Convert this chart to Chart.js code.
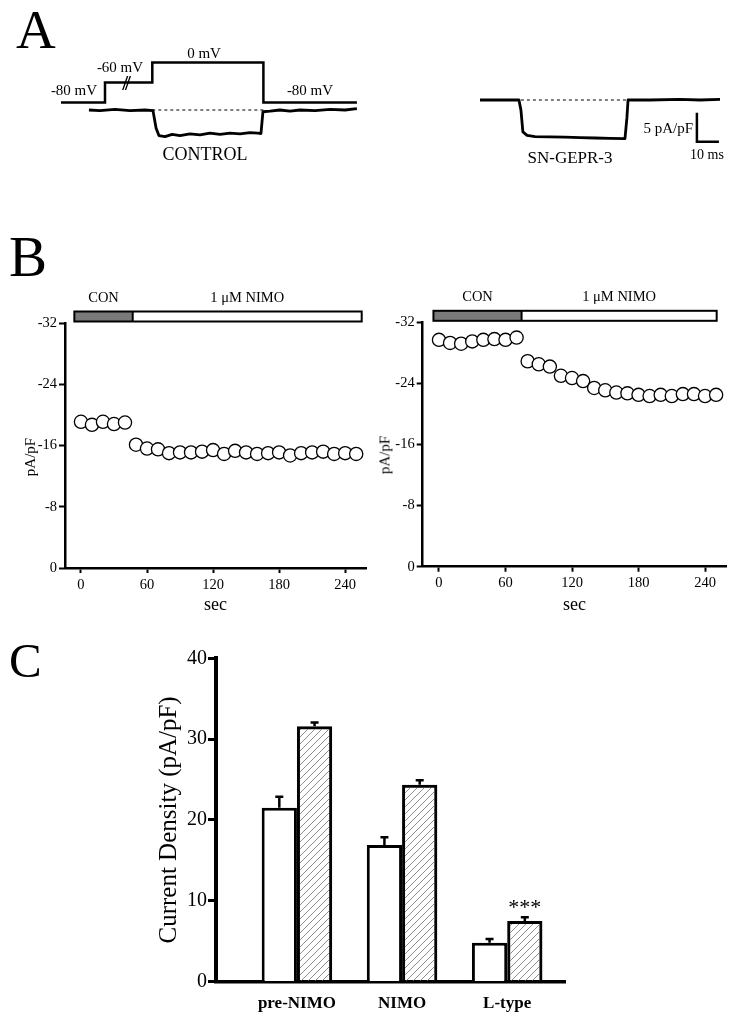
<!doctype html>
<html lang="en">
<head>
<meta charset="utf-8">
<title>Calcium current density</title>
<script src="https://cdn.jsdelivr.net/npm/chart.js@4.4.1/dist/chart.umd.min.js"></script>
<style>
  html, body { margin: 0; background: #fff; }
  body { width: 734px; height: 1016px; position: relative; overflow: hidden;
         font-family: "Liberation Serif", "Times New Roman", serif; color: #000; }
  canvas { position: absolute; }
  .t { position: absolute; white-space: nowrap; line-height: 1; transform: translate(-50%, -50%); }
  .letter { position: absolute; line-height: 1; }
</style>
</head>
<body>
<canvas id="protoChart"></canvas>
<canvas id="ctrlChart"></canvas>
<canvas id="gepChart"></canvas>
<canvas id="leftTime"></canvas>
<canvas id="rightTime"></canvas>
<canvas id="barChart"></canvas>

<div class="letter" style="left:16px; top:2px; font-size:55px">A</div>
<div class="letter" style="left:9px; top:228px; font-size:57px">B</div>
<div class="letter" style="left:9px; top:636px; font-size:49px">C</div>

<div class="t" style="left:74px; top:90px; font-size:15px">-80 mV</div>
<div class="t" style="left:120px; top:67px; font-size:15px">-60 mV</div>
<div class="t" style="left:125px; top:83px; font-size:21px; font-weight:bold; letter-spacing:-3px">//</div>
<div class="t" style="left:204px; top:53px; font-size:15px">0 mV</div>
<div class="t" style="left:310px; top:90px; font-size:15px">-80 mV</div>
<div class="t" style="left:205px; top:154px; font-size:18px">CONTROL</div>
<div class="t" style="left:570px; top:157px; font-size:17px">SN-GEPR-3</div>
<div class="t" style="left:693px; top:128px; font-size:15px; transform:translate(-100%,-50%)">5 pA/pF</div>
<div class="t" style="left:707px; top:155px; font-size:14px">10 ms</div>

<div class="t" style="left:30px; top:457px; font-size:15px; transform:translate(-50%,-50%) rotate(-90deg)">pA/pF</div>
<div class="t" style="left:385px; top:455px; font-size:15px; transform:translate(-50%,-50%) rotate(-90deg)">pA/pF</div>

<script>
  // A: voltage protocol (ms) and example current traces (pA/pF)
  const protocolTime = [0, 20, 20, 41.5, 41.5, 92, 92, 134.5];
  const protocolLevel = ['-80 mV', '-80 mV', '-60 mV', '-60 mV', '0 mV', '0 mV', '-80 mV', '-80 mV'];
  const protocolLabels = ['0 mV', '-60 mV', '-80 mV'];

  const controlTime = [12.7, 17.7, 24.5, 31.4, 38.2, 41.8, 43.2, 44.5, 47.3, 50.5, 54.1, 58.6, 63.2, 67.7, 72.3,
                       76.8, 81.4, 85.9, 89.5, 90.9, 91.8, 95, 99.5, 104.1, 108.6, 115.5, 122.3, 129.1, 134.5];
  const controlCurrent = [0, -0.1, 0.1, -0.1, 0, -0.1, -3.1, -4.4, -4.6, -4.2, -4.4, -4.1, -4.3, -4.0, -4.2,
                          -4.0, -4.1, -3.9, -4.0, -4.05, -0.3, -0.2, 0, -0.2, 0, -0.1, 0.1, 0, 0.25];
  const controlBaseTime = [41.5, 92];

  const gepTime = [0, 9.1, 17.7, 18.6, 19.5, 21.4, 25, 31.8, 38.6, 45.5, 52.3, 59.1, 65.9, 66.8, 67.3, 77.3, 90.9, 100, 109.1];
  const gepCurrent = [0, 0, 0, -1.7, -5.5, -6.1, -6.3, -6.35, -6.4, -6.5, -6.55, -6.6, -6.67, -3, 0, 0, 0.1, 0, 0.1];
  const gepBaseTime = [18.6, 67];
  const baseCurrent = [0, 0];

  const scaleBarTime = [98.6, 98.6, 108.6];
  const scaleBarCurrent = [-2.2, -7.2, -7.2];

  // B: time course before / during nimodipine
  const leftTime = [0, 10, 20, 30, 40, 50, 60, 70, 80, 90, 100, 110, 120, 130, 140, 150, 160, 170, 180, 190, 200, 210, 220, 230, 240, 250];
  const leftCurrent = [-19.1, -18.7, -19.1, -18.8, -19.0, -16.1, -15.6, -15.5, -15.0, -15.1, -15.1, -15.2, -15.4,
                       -14.9, -15.3, -15.1, -14.9, -15.0, -15.1, -14.7, -15.0, -15.1, -15.2, -14.9, -15.0, -14.9];
  const rightTime = [0, 10, 20, 30, 40, 50, 60, 70, 80, 90, 100, 110, 120, 130, 140, 150, 160, 170, 180, 190, 200, 210, 220, 230, 240, 250];
  const rightCurrent = [-29.7, -29.3, -29.2, -29.5, -29.7, -29.8, -29.7, -30.0, -26.9, -26.5, -26.2, -25.0, -24.7,
                        -24.3, -23.4, -23.1, -22.8, -22.7, -22.5, -22.35, -22.5, -22.35, -22.6, -22.6, -22.35, -22.5];
  const secTicks = [0, 60, 120, 180, 240];
  const periodLabels = ['CON', '1 μM NIMO'];
  const leftPeriodEdges = [-6, 47, 255];
  const rightPeriodEdges = [-5, 74.5, 250.5];
  const periodFills = ['#7a7a7a', '#ffffff'];

  // C: current density summary
  const categories = ['pre-NIMO', 'NIMO', 'L-type'];
  const categoryPositions = [1, 2, 3];
  const controlMeans = [21.5, 16.9, 4.8];
  const controlSem = [1.35, 0.95, 0.45];
  const gepMeans = [31.6, 24.35, 7.5];
  const gepSem = [0.45, 0.55, 0.45];
  const significance = ['', '', '***'];

  Chart.defaults.font.family = '"Liberation Serif", "Times New Roman", serif';
  Chart.defaults.color = '#000';
  Chart.defaults.animation = false;
  Chart.defaults.responsive = false;
  Chart.defaults.events = [];
  Chart.defaults.plugins.legend.display = false;
  Chart.defaults.plugins.tooltip.enabled = false;

  const pts = (xs, ys) => xs.map((x, i) => ({ x, y: ys[i] }));

  // size and place a canvas so that its chart area lands on the given page box
  function frame(id, area, ext) {
    const c = document.getElementById(id);
    const L = Math.floor(area.l - ext.l), T = Math.floor(area.t - ext.t);
    const R = Math.ceil(area.r + ext.r), B = Math.ceil(area.b + ext.b);
    c.width = R - L; c.height = B - T;
    Object.assign(c.style, { left: L + 'px', top: T + 'px', width: (R - L) + 'px', height: (B - T) + 'px' });
    return { canvas: c, left: L, top: T, bottom: B, l: area.l - L, t: area.t - T, r: R - area.r, b: B - area.b };
  }

  function traceChart(id, area, xMax, yScale, datasets) {
    const f = frame(id, area, { l: 4, t: 4, r: 4, b: 4 });
    datasets.forEach(d => { d.clip = false; });
    return new Chart(f.canvas, {
      type: 'line',
      data: { datasets },
      options: {
        layout: { padding: { left: f.l, top: f.t, right: f.r, bottom: f.b } },
        elements: {
          point: { radius: 0 },
          line: { tension: 0, borderColor: '#000', borderWidth: 2.5, borderJoinStyle: 'miter', fill: false }
        },
        scales: {
          x: { type: 'linear', display: false, min: 0, max: xMax },
          y: Object.assign({ display: false }, yScale)
        }
      }
    });
  }

  traceChart('protoChart', { l: 61, t: 62.5, r: 356.9, b: 102.5 }, 134.5,
    { type: 'category', labels: protocolLabels, offset: false },
    [{ data: pts(protocolTime, protocolLevel) }]);

  traceChart('ctrlChart', { l: 61, t: 104.2, r: 356.9, b: 144.8 }, 134.5,
    { type: 'linear', min: -6, max: 1 },
    [
      { data: pts(controlBaseTime, baseCurrent), borderWidth: 1, borderDash: [3, 3] },
      { data: pts(controlTime, controlCurrent), borderWidth: 2.8, borderJoinStyle: 'round' }
    ]);

  traceChart('gepChart', { l: 480, t: 94.2, r: 720, b: 146.4 }, 109.1,
    { type: 'linear', min: -8, max: 1 },
    [
      { data: pts(gepBaseTime, baseCurrent), borderWidth: 1, borderDash: [3, 3] },
      { data: pts(gepTime, gepCurrent), borderWidth: 2.8, borderJoinStyle: 'round' },
      { data: pts(scaleBarTime, scaleBarCurrent), borderWidth: 2.5 }
    ]);

  // treatment bar drawn above the plot, positioned with the x scale
  const treatmentBar = {
    id: 'treatmentBar',
    afterDraw(chart, args, opts) {
      const { ctx, chartArea } = chart;
      const x = chart.scales.x;
      const top = chartArea.top - 11.5, h = 10;
      const px = opts.edges.map(v => x.getPixelForValue(v));
      ctx.save();
      ctx.font = '14.5px "Liberation Serif", serif';
      ctx.textAlign = 'center';
      ctx.textBaseline = 'alphabetic';
      opts.labels.forEach((label, i) => {
        ctx.fillStyle = periodFills[i];
        ctx.fillRect(px[i], top, px[i + 1] - px[i], h);
        ctx.fillStyle = '#000';
        ctx.fillText(label, (px[i] + px[i + 1]) / 2, top - 10);
      });
      ctx.strokeStyle = '#000';
      ctx.lineWidth = 2;
      ctx.strokeRect(px[0], top, px[px.length - 1] - px[0], h);
      ctx.beginPath();
      for (let i = 1; i < px.length - 1; i++) { ctx.moveTo(px[i], top); ctx.lineTo(px[i], top + h); }
      ctx.stroke();
      ctx.restore();
    }
  };

  function timeChart(id, area, xMin, times, currents, edges) {
    const f = frame(id, area, { l: 50, t: 43, r: 7, b: 48 });
    return new Chart(f.canvas, {
      type: 'scatter',
      data: {
        datasets: [{
          data: pts(times, currents), clip: false,
          pointRadius: 6.6, pointBorderWidth: 1.3, pointBackgroundColor: '#fff', pointBorderColor: '#000'
        }]
      },
      options: {
        layout: { padding: { left: 0, top: f.t, right: f.r, bottom: 0 } },
        plugins: { treatmentBar: { edges, labels: periodLabels } },
        scales: {
          x: {
            type: 'linear', min: xMin, max: 259,
            afterBuildTicks: s => { s.ticks = secTicks.map(v => ({ value: v })); },
            afterFit: s => { s.height = f.b; },
            border: { color: '#000', width: 2.5 },
            grid: { drawOnChartArea: false, tickLength: 5, tickWidth: 2, tickColor: '#000' },
            ticks: { font: { size: 14.5 }, padding: 3, maxRotation: 0, autoSkip: false },
            title: { display: true, text: 'sec', font: { size: 18 }, padding: { top: 0, bottom: f.bottom - 10.8 - 605 } }
          },
          y: {
            type: 'linear', min: -32, max: 0, reverse: true,
            afterFit: s => { s.width = f.l; },
            border: { color: '#000', width: 2.5 },
            grid: { drawOnChartArea: false, tickLength: 6, tickWidth: 2, tickColor: '#000' },
            ticks: { stepSize: 8, font: { size: 14.5 }, padding: 2 }
          }
        }
      },
      plugins: [treatmentBar]
    });
  }

  timeChart('leftTime', { l: 65, t: 323, r: 367, b: 568 }, -14.5, leftTime, leftCurrent, leftPeriodEdges);
  timeChart('rightTime', { l: 422.7, t: 322.3, r: 726.7, b: 566.7 }, -14.7, rightTime, rightCurrent, rightPeriodEdges);

  function hatch() {
    const s = 7;
    const c = document.createElement('canvas');
    c.width = s; c.height = s;
    const g = c.getContext('2d');
    g.strokeStyle = '#6a6a6a';
    g.lineWidth = 0.75;
    g.beginPath();
    g.moveTo(0, s); g.lineTo(s, 0);
    g.moveTo(-s / 2, s / 2); g.lineTo(s / 2, -s / 2);
    g.moveTo(s / 2, s * 1.5); g.lineTo(s * 1.5, s / 2);
    g.stroke();
    return g.createPattern(c, 'repeat');
  }

  // SEM bars (upward only) and significance marks
  const errorBars = {
    id: 'errorBars',
    afterDatasetsDraw(chart) {
      const { ctx } = chart;
      const y = chart.scales.y;
      ctx.save();
      ctx.strokeStyle = '#000';
      ctx.fillStyle = '#000';
      ctx.lineWidth = 2.5;
      chart.data.datasets.forEach((ds, d) => {
        chart.getDatasetMeta(d).data.forEach((bar, i) => {
          const capY = y.getPixelForValue(ds.data[i].y + ds.errors[i]);
          ctx.beginPath();
          ctx.moveTo(bar.x, bar.y);
          ctx.lineTo(bar.x, capY);
          ctx.moveTo(bar.x - 4, capY);
          ctx.lineTo(bar.x + 4, capY);
          ctx.stroke();
          if (ds.marks && ds.marks[i]) {
            ctx.font = '22px "Liberation Serif", serif';
            ctx.textAlign = 'center';
            ctx.textBaseline = 'alphabetic';
            ctx.fillText(ds.marks[i], bar.x, capY - 3);
          }
        });
      });
      ctx.restore();
    }
  };

  const cf = frame('barChart', { l: 216, t: 658.3, r: 565, b: 981.5 }, { l: 66, t: 16, r: 10, b: 34.5 });
  new Chart(cf.canvas, {
    type: 'bar',
    data: {
      datasets: [
        { label: 'CONTROL', data: pts(categoryPositions, controlMeans), errors: controlSem,
          backgroundColor: '#fff', borderColor: '#000', borderWidth: 3 },
        { label: 'SN-GEPR-3', data: pts(categoryPositions, gepMeans), errors: gepSem, marks: significance,
          backgroundColor: hatch(), borderColor: '#000', borderWidth: 3 }
      ]
    },
    options: {
      layout: { padding: { left: 0, top: cf.t, right: cf.r, bottom: 0 } },
      datasets: { bar: { categoryPercentage: 0.671, barPercentage: 1, borderSkipped: 'bottom' } },
      scales: {
        x: {
          type: 'linear', min: 0.23, max: 3.55, offset: false,
          afterBuildTicks: s => { s.ticks = categoryPositions.map(v => ({ value: v })); },
          afterFit: s => { s.height = cf.b; },
          grid: { display: false },
          border: { color: '#000', width: 3.5 },
          ticks: { callback: (v, i) => categories[i], font: { size: 17, weight: 'bold' }, padding: 4, maxRotation: 0, autoSkip: false }
        },
        y: {
          min: 0, max: 40,
          afterFit: s => { s.width = cf.l; },
          grid: { drawOnChartArea: false, tickLength: 8, tickWidth: 3, tickColor: '#000' },
          border: { color: '#000', width: 4 },
          ticks: { stepSize: 10, font: { size: 20 }, padding: 1 },
          title: { display: true, text: 'Current Density (pA/pF)', font: { size: 25 }, padding: { top: 169 - cf.left - 15, bottom: 0 } }
        }
      }
    },
    plugins: [errorBars]
  });
</script>
</body>
</html>
